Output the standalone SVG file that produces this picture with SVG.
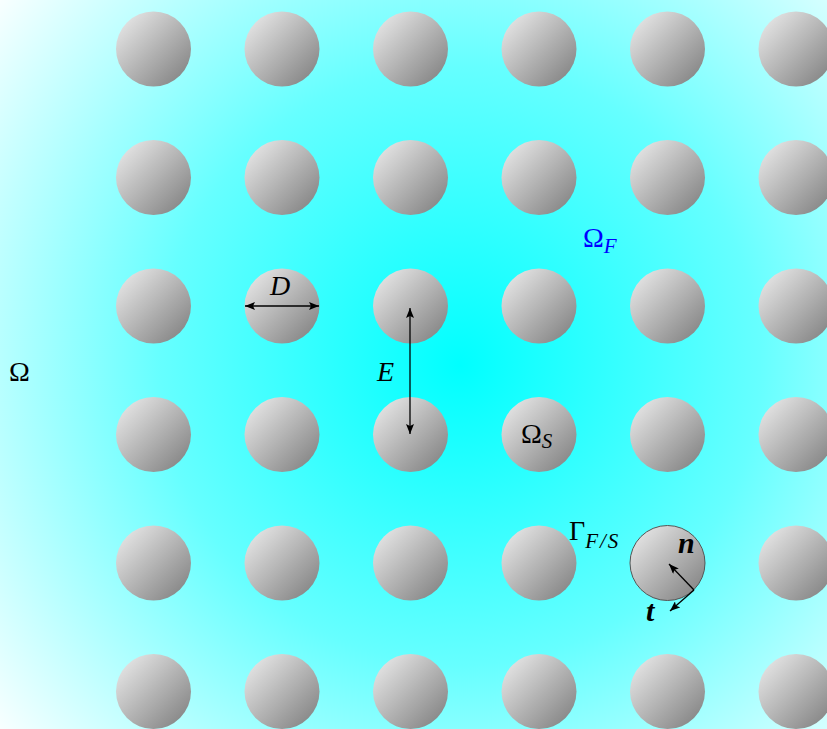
<svg xmlns="http://www.w3.org/2000/svg" width="827" height="729" viewBox="0 0 827 729">
<defs>
<radialGradient id="bg" cx="460" cy="365" r="600" gradientUnits="userSpaceOnUse">
<stop offset="0" stop-color="#00ffff"/>
<stop offset="0.5" stop-color="#66ffff"/>
<stop offset="1" stop-color="#ffffff"/>
</radialGradient>
<linearGradient id="ball" x1="0.15" y1="0.15" x2="0.85" y2="0.85">
<stop offset="0" stop-color="#dedede"/>
<stop offset="1" stop-color="#8c8c8c"/>
</linearGradient>
<marker id="ah" viewBox="0 0 10 8" refX="10" refY="4" markerWidth="10" markerHeight="8" markerUnits="userSpaceOnUse" orient="auto-start-reverse">
<path d="M0,0 L10,4 L0,8 L2,4 Z" fill="#000"/>
</marker>
<circle id="c" r="37.5" fill="url(#ball)"/>
</defs>
<style>
.lbl{font-family:"Liberation Serif","DejaVu Serif",serif;font-size:28px;fill:#000}
.it{font-style:italic}
.sub{font-size:21px}
.bf{font-weight:bold;font-style:italic;font-size:30px}
.ln{stroke:#000;stroke-width:1.3;fill:none}
</style>
<rect width="827" height="729" fill="url(#bg)"/>
<g id="balls">
<use href="#c" x="153.5" y="49"/><use href="#c" x="282" y="49"/><use href="#c" x="410.5" y="49"/><use href="#c" x="539" y="49"/><use href="#c" x="667.5" y="49"/><use href="#c" x="796" y="49"/>
<use href="#c" x="153.5" y="177.5"/><use href="#c" x="282" y="177.5"/><use href="#c" x="410.5" y="177.5"/><use href="#c" x="539" y="177.5"/><use href="#c" x="667.5" y="177.5"/><use href="#c" x="796" y="177.5"/>
<use href="#c" x="153.5" y="306"/><use href="#c" x="282" y="306"/><use href="#c" x="410.5" y="306"/><use href="#c" x="539" y="306"/><use href="#c" x="667.5" y="306"/><use href="#c" x="796" y="306"/>
<use href="#c" x="153.5" y="434.5"/><use href="#c" x="282" y="434.5"/><use href="#c" x="410.5" y="434.5"/><use href="#c" x="539" y="434.5"/><use href="#c" x="667.5" y="434.5"/><use href="#c" x="796" y="434.5"/>
<use href="#c" x="153.5" y="563"/><use href="#c" x="282" y="563"/><use href="#c" x="410.5" y="563"/><use href="#c" x="539" y="563"/><use href="#c" x="796" y="563"/>
<use href="#c" x="153.5" y="691.5"/><use href="#c" x="282" y="691.5"/><use href="#c" x="410.5" y="691.5"/><use href="#c" x="539" y="691.5"/><use href="#c" x="667.5" y="691.5"/><use href="#c" x="796" y="691.5"/>
</g>
<g id="highlight">
<circle cx="667.5" cy="563" r="37.5" fill="url(#ball)" stroke="#555" stroke-width="1"/>
</g>
<g id="connectors">
<line class="ln" x1="245" y1="306" x2="319" y2="306" marker-start="url(#ah)" marker-end="url(#ah)"/>
<line class="ln" x1="410" y1="308" x2="410" y2="434" marker-start="url(#ah)" marker-end="url(#ah)"/>
<line class="ln" x1="694" y1="590" x2="669" y2="564" marker-end="url(#ah)"/>
<line class="ln" x1="694" y1="590" x2="670" y2="611" marker-end="url(#ah)"/>
</g>
<g id="labels">
<text class="lbl" x="9" y="381">Ω</text>
<text class="lbl" x="583" y="247" style="fill:#0000ff">Ω<tspan class="sub it" dy="6">F</tspan></text>
<text class="lbl" x="521" y="443">Ω<tspan class="sub it" dy="5">S</tspan></text>
<text class="lbl" x="569" y="540">Γ<tspan class="sub it" dy="8" letter-spacing="2">F/S</tspan></text>
<text class="lbl bf" x="678" y="553">n</text>
<text class="lbl bf" x="646" y="621">t</text>
<text class="lbl it" x="270" y="295">D</text>
<text class="lbl it" x="377" y="381">E</text>
</g>
</svg>
